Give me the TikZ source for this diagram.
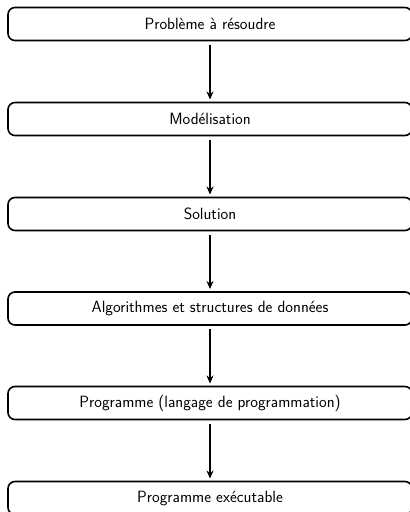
\documentclass[tikz,border=0pt]{standalone}
\usetikzlibrary{arrows.meta}
\begin{document}
\begin{tikzpicture}[x=1pt,y=-1pt,
  stepbox/.style={draw, line width=1.6pt, rounded corners=7pt, minimum width=404pt, minimum height=33pt, inner sep=0pt, outer sep=0pt, font=\sffamily\fontsize{16.3}{18}\selectfont},
  flow/.style={line width=1.3pt, -{Stealth[length=8pt,width=7pt]}, shorten <=4pt, shorten >=3pt}]
\useasboundingbox (0,0) rectangle (410,512);
\node[stepbox] (b1) at (210,24) {Problème à résoudre};
\node[stepbox] (b2) at (210,119) {Modélisation};
\node[stepbox] (b3) at (210,214) {Solution};
\node[stepbox] (b4) at (210,308.5) {Algorithmes et structures de données};
\node[stepbox] (b5) at (210,403) {Programme (langage de programmation)};
\node[stepbox] (b6) at (210,498) {Programme exécutable};
\draw[flow] (b1) -- (b2);
\draw[flow] (b2) -- (b3);
\draw[flow] (b3) -- (b4);
\draw[flow] (b4) -- (b5);
\draw[flow] (b5) -- (b6);
\end{tikzpicture}
\end{document}
